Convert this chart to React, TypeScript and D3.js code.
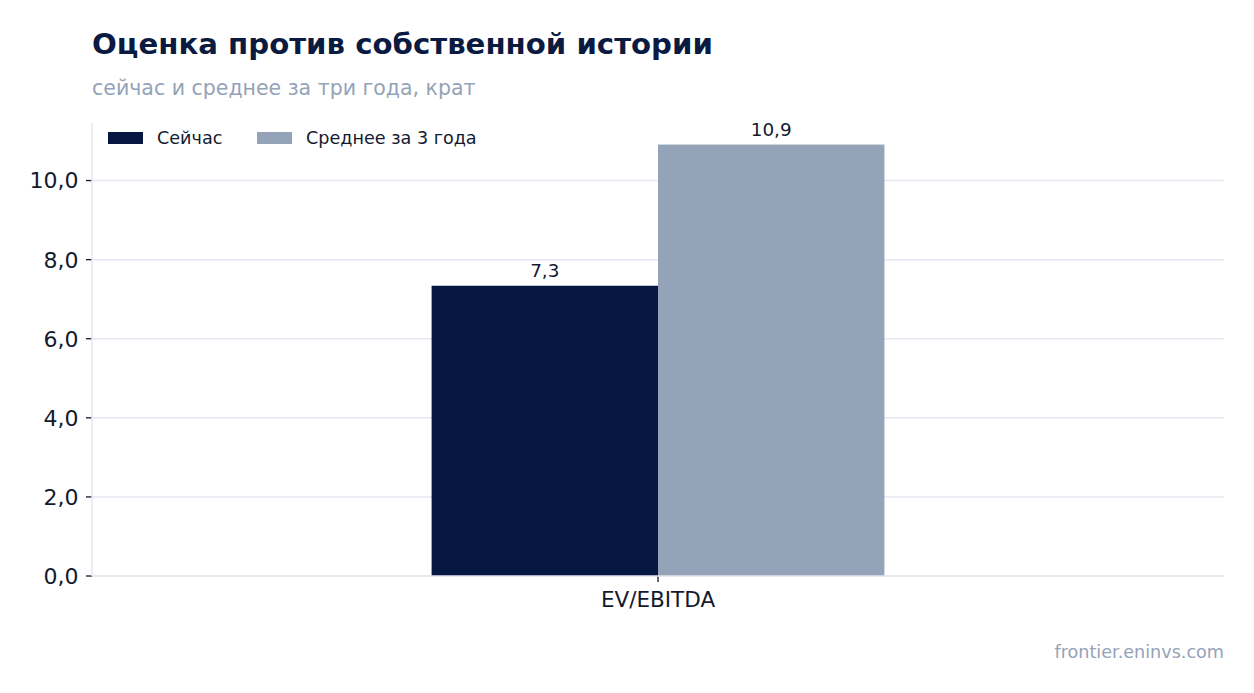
import React from "react";
import * as d3 from "d3";

const categories = ["EV/EBITDA"];
const seriesNames = ["Сейчас", "Среднее за 3 года"];
const nowValues = [7.34];
const avgValues = [10.91];
const yTicks = [0, 2, 4, 6, 8, 10];
const title = "Оценка против собственной истории";
const subtitle = "сейчас и среднее за три года, крат";
const source = "frontier.eninvs.com";

const W = 1254;
const H = 693;
const left = 92;
const right = 1224;
const bottom = 576;
const top = 123;
const colors = ["#061741", "#94a3b8"];
const grid = "#e3e7ef";
const textColor = "#141a2e";
const font = "'DejaVu Sans', sans-serif";

const fmt = (v: number) => d3.format(".1f")(v).replace(".", ",");

export default function App() {
  const series = [nowValues, avgValues];
  const maxV = d3.max(series.flat()) as number;
  const y = d3.scaleLinear().domain([0, maxV * 1.05]).range([bottom, top]);
  const x = d3.scaleLinear().domain([-1, 1]).range([left, right]);
  const barW = 0.4;

  return (
    <div style={{ position: "fixed", left: 0, top: 0 }}>
      <svg width={W} height={H} style={{ display: "block", background: "#fff" }} fontFamily={font}>
        <text x={92} y={54} fontSize={29.2} fontWeight="bold" fill="#0b1a40">{title}</text>
        <text x={92} y={95} fontSize={20.5} fill="#94a3b8">{subtitle}</text>

        {yTicks.map((t) => (
          <g key={t}>
            <line x1={left} x2={right} y1={y(t)} y2={y(t)} stroke={grid} strokeWidth={1.5} />
            <line x1={left - 6} x2={left} y1={y(t)} y2={y(t)} stroke={textColor} strokeWidth={1.3} />
            <text x={left - 13.5} y={y(t)} dy="0.36em" textAnchor="end" fontSize={22} fill={textColor}>{fmt(t)}</text>
          </g>
        ))}
        <line x1={left} x2={left} y1={top} y2={bottom} stroke={grid} strokeWidth={1.5} />

        {categories.map((c, ci) => (
          <g key={c}>
            {series.map((s, si) => {
              const x0 = ci + (si - 1) * barW;
              return (
                <g key={si}>
                  <rect x={x(x0)} width={x(x0 + barW) - x(x0)} y={y(s[ci])} height={bottom - y(s[ci])} fill={colors[si]} />
                  <text x={x(x0 + barW / 2)} y={y(s[ci]) - 9} textAnchor="middle" fontSize={18.4} fill={textColor}>{fmt(s[ci])}</text>
                </g>
              );
            })}
            <line x1={x(ci)} x2={x(ci)} y1={bottom} y2={bottom + 6} stroke={textColor} strokeWidth={1.3} />
            <text x={x(ci)} y={bottom + 31} textAnchor="middle" fontSize={21.5} fill={textColor}>{c}</text>
          </g>
        ))}
        <line x1={left} x2={right} y1={bottom} y2={bottom} stroke={grid} strokeWidth={1.5} />

        {seriesNames.map((n, i) => {
          const lx = [108, 257][i];
          return (
            <g key={n}>
              <rect x={lx} y={132} width={35} height={12} fill={colors[i]} />
              <text x={lx + 49} y={138} dy="0.35em" fontSize={17.6} fill={textColor}>{n}</text>
            </g>
          );
        })}

        <text x={right} y={658} textAnchor="end" fontSize={17.6} fill="#94a3b8">{source}</text>
      </svg>
    </div>
  );
}
